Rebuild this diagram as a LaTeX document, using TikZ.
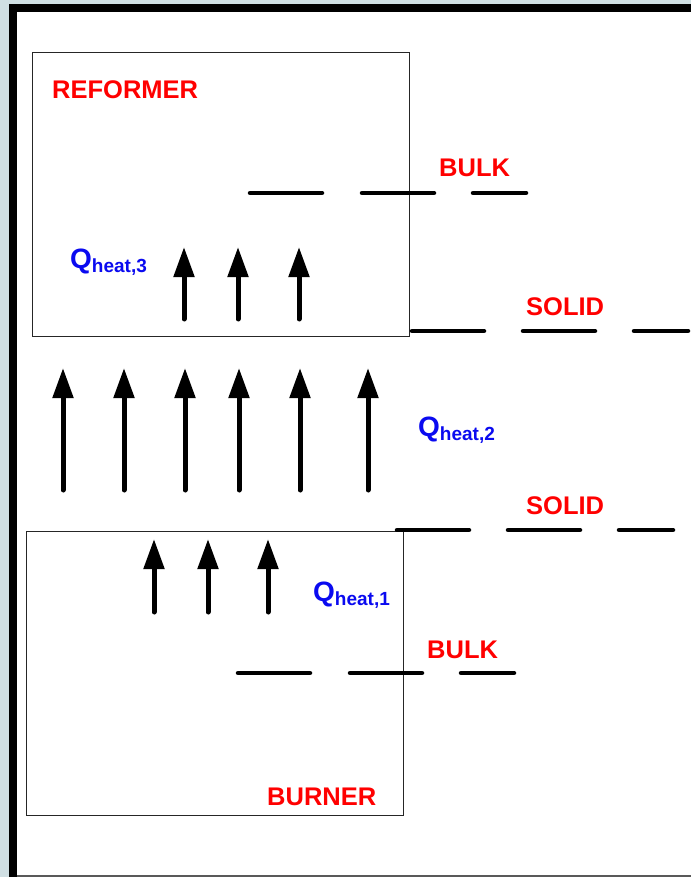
\documentclass[tikz,border=0pt]{standalone}
\usepackage{fontspec}
\setmainfont{Liberation Sans}
\usetikzlibrary{arrows.meta}
\definecolor{bgslate}{HTML}{D0DFE3}
\definecolor{lblred}{HTML}{FF0000}
\definecolor{lblblue}{HTML}{0A0AF0}
\tikzset{
  zone/.style={draw=black!85, line width=1pt},
  flux/.style={line width=5pt, line cap=round, -{Triangle[width=20pt,length=30pt]}},
  film/.style={line width=4.5pt, line cap=round},
  tag/.style={anchor=base west, inner sep=0pt, text=lblred, font=\fontsize{25.5}{25.5}\selectfont\bfseries},
  heat/.style={anchor=base west, inner sep=0pt, text=lblblue, font=\bfseries}
}
\newcommand{\qheat}[1]{{\fontsize{28}{28}\selectfont Q}\raisebox{-4pt}{\fontsize{19}{19}\selectfont heat,#1}}
\begin{document}
\begin{tikzpicture}[x=1pt, y=-1pt]
  \useasboundingbox (0,0) rectangle (691,877);
  % page frame
  \fill[bgslate] (0,0) rectangle (691,877);
  \fill[white] (17,12) rectangle (691,877);
  \fill[black] (9,4) rectangle (17,877);
  \fill[black] (9,4) rectangle (691,12);
  \draw[black!65, line width=1.5pt] (17,876) -- (691,876);

  % reactor zones
  \draw[zone] (32,53) rectangle (409,336);
  \draw[zone] (26,531) rectangle (403,815);

  \node[tag] (reformer) at (52,99) {REFORMER};
  \node[tag] (burner) at (267,805) {BURNER};
  \node[tag] (bulkTop) at (439,177) {BULK};
  \node[tag] (solidTop) at (526,315) {SOLID};
  \node[tag] (solidBot) at (526,514) {SOLID};
  \node[tag] (bulkBot) at (427,658) {BULK};

  \node[heat] (q3) at (70,268) {\qheat{3}};
  \node[heat] (q2) at (418,436) {\qheat{2}};
  \node[heat] (q1) at (313,601) {\qheat{1}};

  % film boundaries
  \foreach \a/\b in {250/322, 362/434, 473/526}
    \draw[film] (\a,193) -- (\b,193);
  \foreach \a/\b in {412/484, 523/595, 634/688}
    \draw[film] (\a,331) -- (\b,331);
  \foreach \a/\b in {397/469, 508/580, 619/673}
    \draw[film] (\a,530) -- (\b,530);
  \foreach \a/\b in {238/310, 350/422, 461/514}
    \draw[film] (\a,673) -- (\b,673);

  % heat flux arrows
  \foreach \x in {184, 238, 299}
    \draw[flux] (\x,319) -- (\x,247);
  \foreach \x in {63, 124, 185, 239, 300, 368}
    \draw[flux] (\x,490) -- (\x,368);
  \foreach \x in {154, 208, 268}
    \draw[flux] (\x,612) -- (\x,539);
\end{tikzpicture}
\end{document}
